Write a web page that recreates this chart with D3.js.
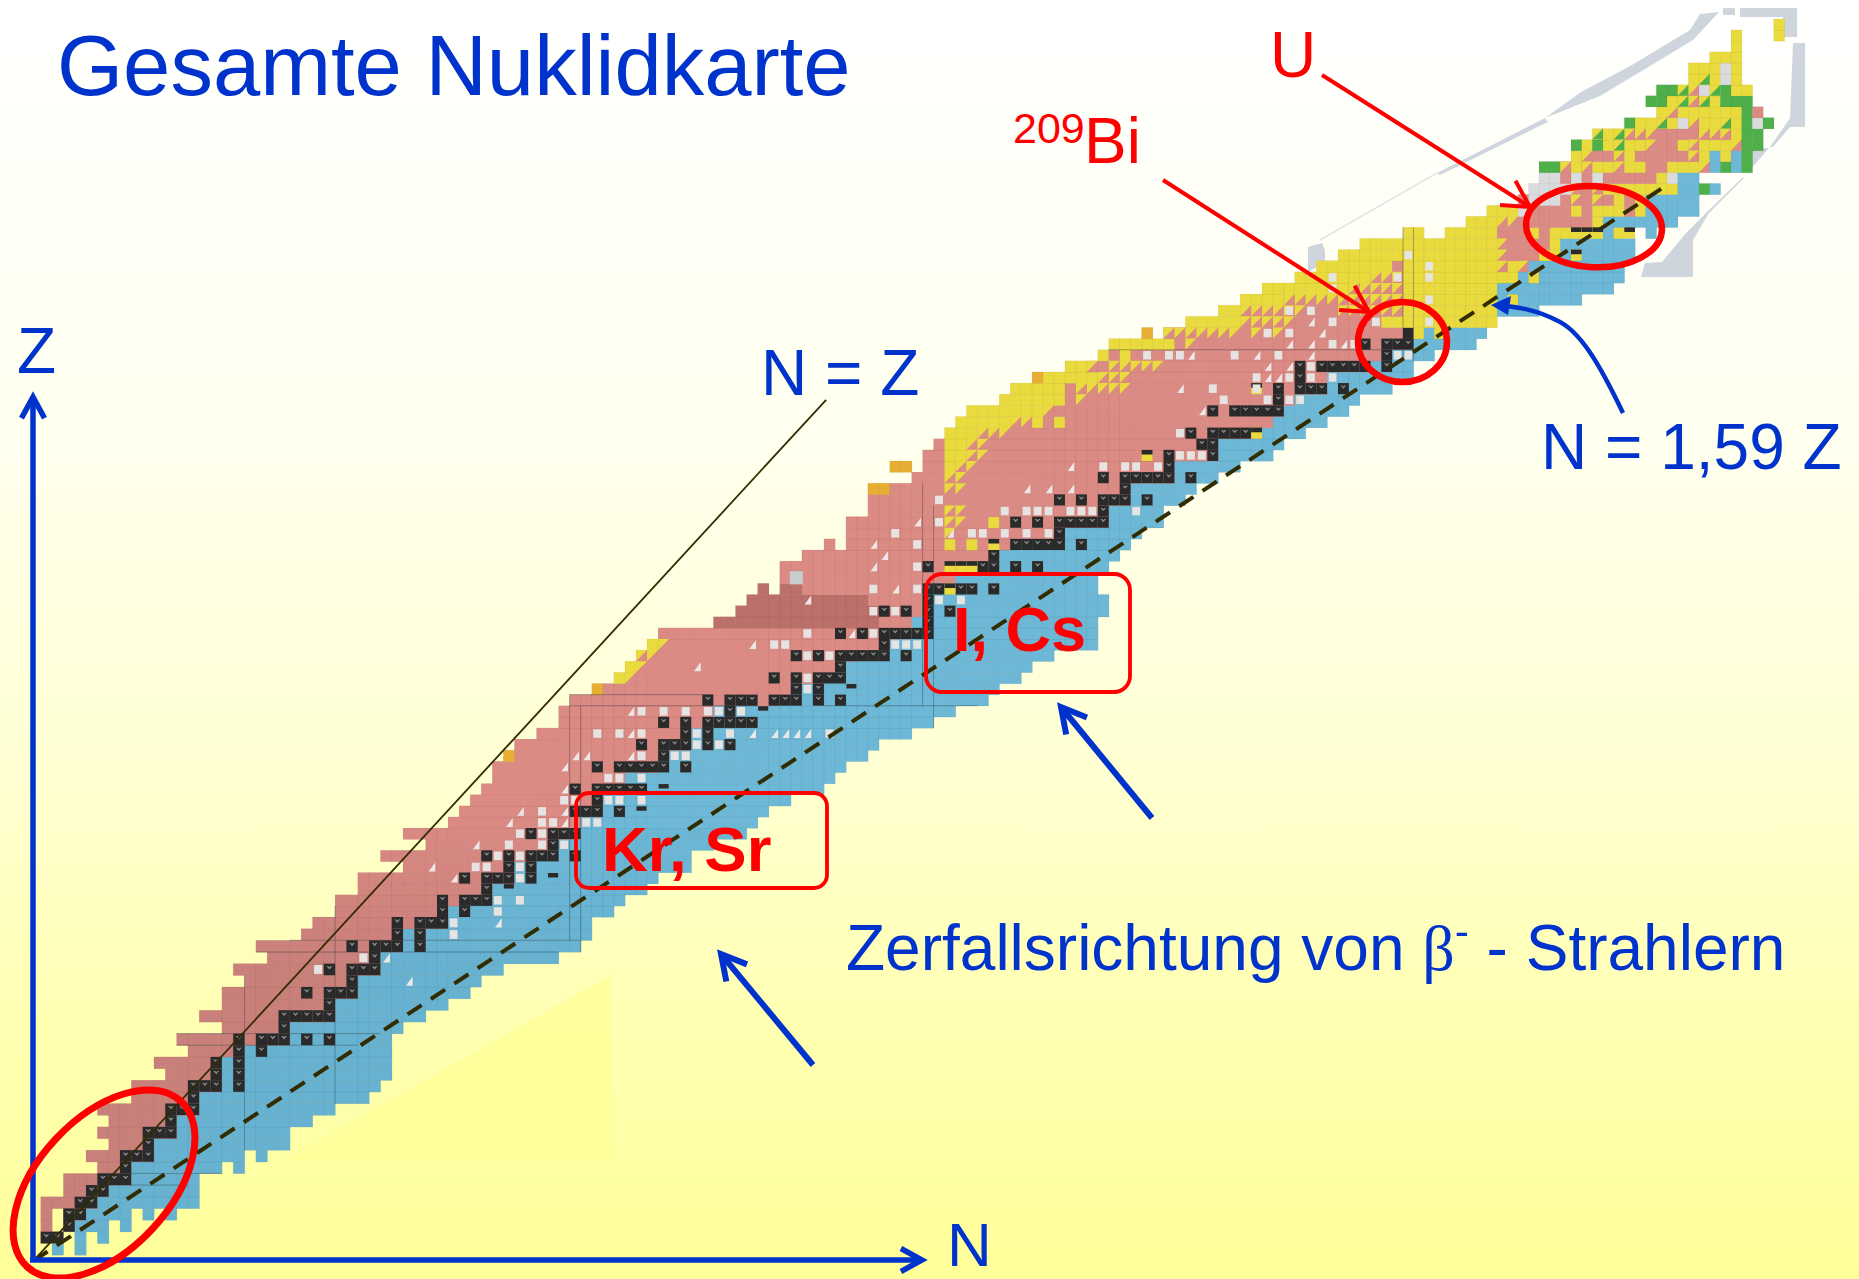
<!DOCTYPE html>
<html><head><meta charset="utf-8">
<style>html,body{margin:0;padding:0;background:#ffff99}svg{display:block}text{font-family:"Liberation Sans",Arial,sans-serif}</style>
<script src="https://cdn.jsdelivr.net/npm/d3@7"></script></head><body>
<script>
// ---------- chart data: index of each array = Z ----------
const nMin=[1,0,0,0,0,2,2,5,4,6,5,6,5,8,8,11,10,13,12,16,14,16,16,18,17,20,19,23,24,26,26,28,28,32,30,34,32,36,37,38,39,40,40,41,42,44,46,46,47,49,51,52,53,54,55,60,62,63,64,66,66,68,70,72,72,74,74,74,78,76,79,80,81,82,83,86,87,89,92,95,96];
const blueStart=[0,2,3,4,5,6,8,8,10,10,12,12,14,14,16,16,16,18,22,22,26,26,28,28,30,30,32,32,36,36,37,40,42,42,44,46,48,48,50,50,52,52,55,55,58,58,60,60,66,67,70,71,73,76,78,78,79,79,79,82,84,86,87,92,96,96,98,98,102,102,106,106,110,111,112,113,116,116,120,121,124];
const nMax=[3,5,7,11,13,13,13,17,19,21,21,23,25,28,29,30,30,30,30,31,33,35,37,38,40,45,47,48,48,50,51,53,54,57,57,59,62,63,64,66,69,70,71,73,74,77,79,81,84,85,87,88,90,94,94,94,95,95,94,94,95,96,97,98,100,100,102,103,105,107,110,111,113,115,117,118,121,123,123,125,129];
const holes=[[0,2],[1,2],[1,4],[2,1],[2,6],[3,1],[3,8],[3,10],[7,16],[8,18],[58,65],[62,71],[69,78],[90,145],[90,146]];
// upper rows: [Z, first N, run-length colour codes]
const topRows=[
[81,99,"o1.1t7p1t1p1t1p11k1y1b1y1b4"],[82,103,"y5t5p8y11"],[83,106,"y2t6p3t6y9b4"],[84,108,"y4t11y9b1y1b6"],
[85,110,"y8t5y9b11"],[86,113,"y7t3y11b1y1b8"],[87,115,"y7p1y9t1y1t1b9"],[88,117,"y15t1p3y2b7"],[89,119,"y13t1p4y1b7"],
[90,123,"y2.2y5p3y1p1y5b1y1.2b1"],[91,129,"y3t2p7y1b7"],[92,131,"y3w1p4y1p1y3p1y1b5"],[93,134,"p1w3p1t1p1t1p1y1p1y1b5"],
[94,135,"w4t1p1t1y7b2g1b1"],[95,136,"w2p1w1p1w1p5y1w1b2"],[96,136,"g2t1y1t1y2t1y2p2y3t1b1g1b1g1"],
[97,139,"y1t1p2t1y1p5t1y1b1y1b1g1"],[98,139,"g1y1g1y1q1y2t1p2y1t1y3t1g2"],[99,141,"q1y1q1t3p4t3y1g2"],
[100,144,"g1y2q1y1w1t1y2q1y1g1w1g1"],[101,147,"y1t1y6g1p1"],[102,146,"g2y1q1t1q1y1g3"],[103,147,"g2q1t1w1q1g1y2"],
[104,150,"y1q1y1w1y1"],[105,150,"y3w1y1"],[106,152,"y3"],[107,154,"y1"],[108,154,"y1"],[108,158,"y1"],[109,158,"y1"]];
// overlays in the lower rows: [Z, from N, to N, code]
const overlayRuns=[[43,41,41,"o"],[49,49,49,"o"],[50,51,51,"y"],[50,52,52,"t"],[51,52,52,"y"],[51,53,53,"t"],[52,53,54,"t"],[53,54,54,"y"],[53,55,55,"t"],
[62,81,81,"y"],[62,83,83,"y"],[63,81,81,"t"],[64,81,82,"t"],[64,85,85,"y"],[65,81,82,"t"],[67,74,75,"o"],[67,81,82,"t"],[68,81,82,"t"],[69,81,81,"y"],[69,82,83,"t"],[69,76,77,"o"],
[70,81,82,"y"],[70,83,84,"t"],[71,81,82,"y"],[71,83,84,"t"],[72,81,83,"y"],[72,84,86,"t"],[73,82,86,"y"],[73,87,88,"t"],[73,89,89,"y"],[73,91,91,"y"],
[74,83,89,"y"],[74,90,90,"t"],[75,86,91,"y"],[75,93,93,"t"],[76,87,91,"y"],[76,93,97,"t"],[77,89,89,"o"],[77,90,94,"y"],[77,95,97,"t"],
[78,92,93,"y"],[78,94,94,"t"],[78,96,100,"t"],[79,95,95,"y"],[79,97,97,"y"],[80,96,101,"y"],[80,103,103,"t"]];
const blackRows=[[1,[0,1]],[2,[2]],[3,[2,3]],[4,[3,4]],[5,[4,5]],[6,[5,6,7]],[7,[7]],[8,[7,8,9]],[9,[9]],[10,[9,10,11]],[11,[11]],[12,[11,12,13]],[13,[13]],[14,[13,14,15,17]],[15,[15,17]],[16,[15,17]],[17,[17,19]],[18,[17,19,20,21,23,25]],[19,[21]],[20,[21,22,23,24,25]],[21,[25]],[22,[23,25,26,27]],[23,[27]],[24,[25,27,28,29]],[25,[29]],[26,[27,29,30,31,33]],[27,[31,33]],[28,[31,33,34,35]],[29,[35,37]],[30,[35,37,38,39]],[31,[39]],[32,[37,39,40,41,43]],[33,[41,43]],[34,[39,41,43,44,45,47]],[35,[45]],[36,[43,45,46,47]],[38,[47,48,49,51]],[39,[49]],[40,[47,49,50,51,52,53]],[42,[49,51,52,53,54,55,57]],[43,[55]],[44,[53,55,56,57,59,61]],[45,[57,59]],[46,[55,57,59,60,61,62,63]],[47,[61]],[48,[59,61,62,63,65,66,67,69,71]],[49,[67,69]],[50,[65,67,69,70,71]],[51,[71]],[52,[67,69,71,72,73,74,75,77]],[53,[75]],[54,[71,73,75,76,77,78,79]],[55,[79]],[56,[75,77,79,81]],[57,[79]],[58,[79,80,82,83,85]],[60,[79,84,85,87,89]],[61,[85]],[62,[87,88,89,90,91,93]],[63,[91]],[64,[87,89,91,92,93,94,95]],[65,[95]],[66,[91,93,95,96,97,99]],[67,[97]],[68,[95,97,98,99,100,101,103]],[69,[101]],[70,[101,105]],[71,[104,105]],[72,[103,105,106,107,108]],[74,[105,107,108,109,110,111]],[75,[111]],[76,[111,113,114,115,117]],[77,[113]],[78,[113,115,116,117,118,119,121]],[79,[121]],[80,[119,121,122,123]]];
const halfCells=[[58,81],[60,81],[60,82],[60,83],[62,85],[70,99],[72,109],[76,109],[88,139],[90,139],[90,140],[90,141],[90,144]];
const thinBlack=[[31,41],[32,45],[38,53],[40,55],[47,64],[49,72]];
const whiteRows=[[24,[24]],[25,[28]],[27,[36]],[28,[36]],[29,[40]],[30,[40,42]],[32,[42]],[33,[38,39,41,42]],[34,[40,42,44]],[35,[41,44,46]],[36,[42,44,46]],[37,[44,45,48,49]],[38,[44]],[39,[46,47,49,50,51,53]],[41,[50,51,53]],[43,[53,56,57]],[44,[58,60]],[45,[49,51,53,58,59,61,70]],[47,[53,55,57,59,60,61,62]],[48,[63,65]],[49,[68]],[50,[65,68,70]],[52,[68,70]],[53,[65,66,76,77,78]],[54,[68,74,76,78]],[56,[74,76]],[57,[80,82]],[58,[74,78]],[60,[78]],[62,[78]],[63,[76,83,84,86,88,90]],[64,[80]],[65,[86,88,89,90,92,93,94,98]],[66,[80]],[69,[95,97,98,100]],[70,[102,103,104]],[72,[102]],[74,[110]],[75,[106,110,111,112,113]],[76,[105,109]],[77,[109,112,113,114,116]],[78,[114,116]],[79,[99,101,102,107,111,122,123]],[80,[116,118,119]],[81,[110,112]],[82,[116,120,125]],[83,[112,114]],[84,[125]],[85,[116]],[86,[116,122,125]],[87,[125]],[88,[123]]];
const whiteTriRows=[[23,[32]],[25,[30]],[28,[40]],[32,[36]],[33,[34]],[35,[38]],[37,[41,46]],[38,[42,46]],[40,[46]],[42,[46]],[43,[47,48,52]],[45,[52,63,65,66,67,68]],[47,[52]],[51,[58]],[53,[63]],[54,[72]],[57,[68]],[58,[76]],[60,[74]],[61,[75]],[62,[74]],[63,[81]],[64,[78]],[67,[88,90,92]],[69,[92]],[74,[104]],[76,[102]],[77,[110,111]],[78,[110,112]],[79,[103,109,114]],[80,[112,114,117]],[81,[115]],[82,[114]]];
const bigGreyCells=[[59,67]];
const darkBand=[[55,75],[56,75],[57,74],[58,68]];
const vSeams=[[18,9,24],[26,13,30],[47,27,49],[48,26,48],[79,48,68],[80,46,66],[123,79,91],[124,79,91]];
const hSeams=[[6,5,13],[7,5,16],[18,12,28],[19,12,30],[26,19,46],[27,22,48],[48,47,64],[49,47,60],[80,96,122],[48,70,84]];
const nEqualsZ=[[-0.65,-0.5],[70.2,75.5]];
const nEquals159Z=[[-0.65,-0.5],[147.6,94.6]];
const colours={p:"#dc8a84",d:"#bb706b",pl:"#c97f7a",b:"#6cb8d6",bl:"#66b2d0",y:"#e9da3c",o:"#e6ae32",g:"#4fb04a",w:"#d9dbdd",k:"#2b2b2b"};

const W=1859,H=1279;
const x=d3.scaleLinear().domain([0,35,71,111,123,136,160]).range([40.7,437,835,1273,1403,1539,1795]);
const y=d3.scaleLinear().domain([0,29,54,91,111]).range([1255,917,639,227.3,8]);
const svg=d3.select("body").append("svg").attr("width",W).attr("height",H).attr("viewBox",[0,0,W,H]);
const defs=svg.append("defs");
const g0=defs.append("linearGradient").attr("id","bg").attr("x1",0).attr("x2",0).attr("y1",0).attr("y2",1);
[[0,"#ffffff"],[0.35,"#ffffee"],[0.6,"#ffffd2"],[0.8,"#ffffb2"],[1,"#ffff99"]].forEach(s=>g0.append("stop").attr("offset",s[0]).attr("stop-color",s[1]));
defs.append("filter").attr("id","soft").attr("x",0).attr("y",0).attr("width",1).attr("height",1).attr("filterUnits","objectBoundingBox")
  .append("feGaussianBlur").attr("stdDeviation",0.55);
svg.append("rect").attr("width",W).attr("height",H).attr("fill","url(#bg)");
svg.append("path").attr("d","M611,975L611,1160L285,1160Z").attr("fill","#ffff99").attr("opacity",0.85);

// torn paper edges of the photographed chart
const greyG=svg.append("g").attr("fill","#cfd5dc");
["M1719,12L1700,14L1690,30L1632,65L1581,92L1545,118L1600,96L1640,72L1693,40Z",
 "M1545,118L1437,173L1440,175L1548,122Z",
 "M1723,8L1735,8L1735,15L1723,15Z","M1740,8L1797,8L1797,37L1783,37L1783,17L1740,17Z",
 "M1793,43L1805,43L1805,127L1790,127L1773,147L1770,147L1790,118Z",
 "M1750,148L1769,148L1750,170Z",
 "M1744,178L1709,213L1703,223L1693,240L1693,277L1641,277L1645,263L1662,262L1686,233L1706,213L1742,178Z",
 "M1308,247L1322,243L1325,250L1325,262L1308,272Z"].forEach(d=>greyG.append("path").attr("d",d));
svg.append("path").attr("d","M1437,173L1320,240").attr("stroke","#e4e6e6").attr("stroke-width",1.5).attr("fill","none");

const chart=svg.append("g").attr("filter","url(#soft)");
const cx=n=>x(n), cw=n=>x(n+1)-x(n), cy=z=>y(z+1), ch=z=>y(z)-y(z+1);
const cells=[]; const isHole=new Set(holes.map(h=>h[0]+":"+h[1]));
nMin.forEach((m,z)=>{for(let n=m;n<=nMax[z];n++){ if(isHole.has(z+":"+n))continue;
  cells.push({z,n,c:n<blueStart[z]?"p":"b"});}});
const idx=new Map(cells.map(c=>[c.z+":"+c.n,c]));
const put=(z,n,c)=>{const k=z+":"+n;if(idx.has(k))idx.get(k).c=c;else{const e={z,n,c};cells.push(e);idx.set(k,e);}};
overlayRuns.forEach(r=>{for(let n=r[1];n<=r[2];n++)put(r[0],n,r[3]);});
topRows.forEach(([z,n0,s])=>{let n=n0;for(const m of s.matchAll(/([a-z.])(\d+)/g)){for(let i=0;i<+m[2];i++,n++)if(m[1]!==".")put(z,n,m[1]);}});
const pinkAt=d3.scaleLinear().domain([24,38]).range([colours.pl,colours.p]).clamp(true);
const blueAt=d3.scaleLinear().domain([24,38]).range([colours.bl,colours.b]).clamp(true);
const fillOf=d=>{
  if(d.c==="p"||d.c==="t"){ const dk=darkBand.find(b=>b[0]===d.z&&d.n<b[1]); if(dk)return colours.d; return pinkAt(d.z);}
  if(d.c==="q")return colours.y;
  if(d.c==="b")return blueAt(d.z);
  return colours[d.c];};
chart.selectAll("rect.cell").data(cells).join("rect").attr("class","cell")
  .attr("x",d=>cx(d.n)).attr("y",d=>cy(d.z)).attr("width",d=>cw(d.n)+.3).attr("height",d=>ch(d.z)+.3)
  .attr("fill",fillOf).attr("stroke","rgba(60,40,40,.07)").attr("stroke-width",.7);
chart.selectAll("path.tri").data(cells.filter(d=>d.c==="t")).join("path").attr("class","tri")
  .attr("d",d=>`M${cx(d.n)},${cy(d.z)}h${cw(d.n)}L${cx(d.n)},${cy(d.z)+ch(d.z)}Z`).attr("fill",colours.y);
chart.selectAll("path.trig").data(cells.filter(d=>d.c==="q")).join("path").attr("class","trig")
  .attr("d",d=>`M${cx(d.n)+cw(d.n)},${cy(d.z)}V${cy(d.z)+ch(d.z)}H${cx(d.n)}Z`).attr("fill",colours.g);
// stable nuclides
const blacks=blackRows.flatMap(([z,ns])=>ns.map(n=>({z,n})));
const blackSet=new Set(blacks.map(d=>d.z+":"+d.n));
chart.selectAll("rect.k").data(blacks).join("rect").attr("class","k")
  .attr("x",d=>cx(d.n)).attr("y",d=>cy(d.z)).attr("width",d=>cw(d.n)).attr("height",d=>ch(d.z)).attr("fill",colours.k);
chart.selectAll("path.chev").data(blacks).join("path").attr("class","chev")
  .attr("d",d=>{const a=cx(d.n),b=cy(d.z),w=cw(d.n),h=ch(d.z);return `M${a+w*.25},${b+h*.22}L${a+w*.5},${b+h*.5}L${a+w*.75},${b+h*.22}L${a+w*.6},${b+h*.22}L${a+w*.5},${b+h*.32}L${a+w*.4},${b+h*.22}Z`;})
  .attr("fill","#8d8d8d");
chart.selectAll("g.half").data(halfCells).join("g").attr("class","half").each(function(d){const z=d[0],n=d[1],g=d3.select(this);
  g.append("rect").attr("x",cx(n)).attr("y",cy(z)).attr("width",cw(n)).attr("height",ch(z)).attr("fill",colours.y);
  g.append("rect").attr("x",cx(n)).attr("y",cy(z)).attr("width",cw(n)).attr("height",ch(z)*.42).attr("fill",colours.k);});
chart.selectAll("rect.thin").data(thinBlack).join("rect").attr("class","thin")
  .attr("x",d=>cx(d[1])+.5).attr("y",d=>cy(d[0])+.5).attr("width",d=>cw(d[1])-1).attr("height",d=>ch(d[0])*.4).attr("fill",colours.k);
// white / unknown nuclides
const free=d=>!blackSet.has(d.z+":"+d.n);
const whites=whiteRows.flatMap(([z,ns])=>ns.map(n=>({z,n}))).filter(free);
chart.selectAll("rect.wh").data(whites).join("rect").attr("class","wh")
  .attr("x",d=>cx(d.n)+cw(d.n)*.14).attr("y",d=>cy(d.z)+ch(d.z)*.12).attr("width",d=>cw(d.n)*.72).attr("height",d=>ch(d.z)*.76).attr("fill","#e6e3e3");
const wt=whiteTriRows.flatMap(([z,ns])=>ns.map(n=>({z,n}))).filter(free);
chart.selectAll("path.wt").data(wt).join("path").attr("class","wt")
  .attr("d",d=>`M${cx(d.n)+cw(d.n)*.85},${cy(d.z)+ch(d.z)*.1}V${cy(d.z)+ch(d.z)*.9}H${cx(d.n)+cw(d.n)*.25}Z`).attr("fill","#ece8e8");
chart.selectAll("rect.big").data(bigGreyCells).join("rect").attr("class","big")
  .attr("x",d=>cx(d[1])-1).attr("y",d=>cy(d[0])-1).attr("width",d=>cw(d[1])+2).attr("height",d=>ch(d[0])+2).attr("fill","#c8ccce");
// seams of the pasted chart sheets
const seamG=chart.append("g").attr("stroke","rgba(30,50,60,.33)").attr("stroke-width",1);
vSeams.forEach(s=>seamG.append("line").attr("x1",x(s[0])).attr("x2",x(s[0])).attr("y1",y(s[1])).attr("y2",y(s[2])));
hSeams.forEach(s=>seamG.append("line").attr("y1",y(s[0])).attr("y2",y(s[0])).attr("x1",x(s[1])).attr("x2",x(s[2])));

// reference lines
const lineGen=d3.line().x(d=>x(d[0])).y(d=>y(d[1]));
svg.append("path").attr("d",lineGen(nEqualsZ)).attr("fill","none").attr("stroke","#332c00").attr("stroke-width",1.8);
svg.append("path").attr("d",lineGen(nEquals159Z)).attr("fill","none").attr("stroke","#332c00").attr("stroke-width",4).attr("stroke-dasharray","17 11");

const BLUE="#0033cc",RED="#ff0000";
function arrow(x0,y0,x1,y1,col,w,len){
  const a=Math.atan2(y1-y0,x1-x0),b=0.5;
  svg.append("path").attr("d",`M${x0},${y0}L${x1},${y1}`).attr("stroke",col).attr("stroke-width",w).attr("fill","none");
  svg.append("path").attr("d",`M${x1-len*Math.cos(a-b)},${y1-len*Math.sin(a-b)}L${x1},${y1}L${x1-len*Math.cos(a+b)},${y1-len*Math.sin(a+b)}`)
    .attr("stroke",col).attr("stroke-width",w).attr("fill","none").attr("stroke-linejoin","miter");
}
// axes
arrow(33,1262,33,397,BLUE,5.5,24);
arrow(30,1260,922,1260,BLUE,5.5,24);
// pointers
arrow(1322,75,1530,207,RED,4,30);
arrow(1163,180,1369,312,RED,4,30);
arrow(813,1065,721,954,BLUE,6,28);
arrow(1152,818,1061,707,BLUE,6,28);
svg.append("path").attr("d","M1623,413C1600,365 1580,330 1556,320C1535,309 1515,307 1500,305").attr("fill","none").attr("stroke",BLUE).attr("stroke-width",4.5);
svg.append("path").attr("d","M1491,305L1511,296L1508,315Z").attr("fill",BLUE);

// highlight ellipses and boxes
const ell=(cx_,cy_,rx,ry,rot,w)=>svg.append("ellipse").attr("cx",0).attr("cy",0).attr("rx",rx).attr("ry",ry)
  .attr("transform",`translate(${cx_},${cy_}) rotate(${rot})`).attr("fill","none").attr("stroke",RED).attr("stroke-width",w);
ell(104,1184,113,66,-47,7);
ell(1402.5,342,44.5,40,0,6.5);
ell(1594,226.7,68,40.5,3,6.5);
const box=(a,b,c,d,r)=>svg.append("rect").attr("x",a).attr("y",b).attr("width",c-a).attr("height",d-b).attr("rx",r).attr("fill","none").attr("stroke",RED).attr("stroke-width",3.8);
box(576,793,827,888,13);
box(926,574,1130,692,16);

// text
const T=(s,a,b,size,col,weight)=>svg.append("text").attr("x",a).attr("y",b).attr("font-size",size).attr("fill",col).attr("font-weight",weight||"normal").text(s);
T("Gesamte Nuklidkarte",57,95,85,BLUE);
T("U",1270,77,64,RED);
T("209",1013,143,43,RED);
T("Bi",1084,163,64,RED);
T("Z",17,373,64,BLUE);
T("N = Z",761,395,64,BLUE);
T("N = 1,59 Z",1541,469,64,BLUE);
T("N",947,1265.5,62,BLUE);
T("Kr, Sr",602,871,63.5,RED,"bold");
T("I, Cs",953,651,63,RED,"bold");
const zt=svg.append("text").attr("x",846).attr("y",970).attr("font-size",64).attr("fill",BLUE);
zt.append("tspan").text("Zerfallsrichtung von ");
zt.append("tspan").attr("font-family","'Liberation Serif',serif").text("β");
zt.append("tspan").attr("dy",-24).attr("font-size",42).text("-");
zt.append("tspan").attr("dy",24).text(" - Strahlern");
</script></body></html>
